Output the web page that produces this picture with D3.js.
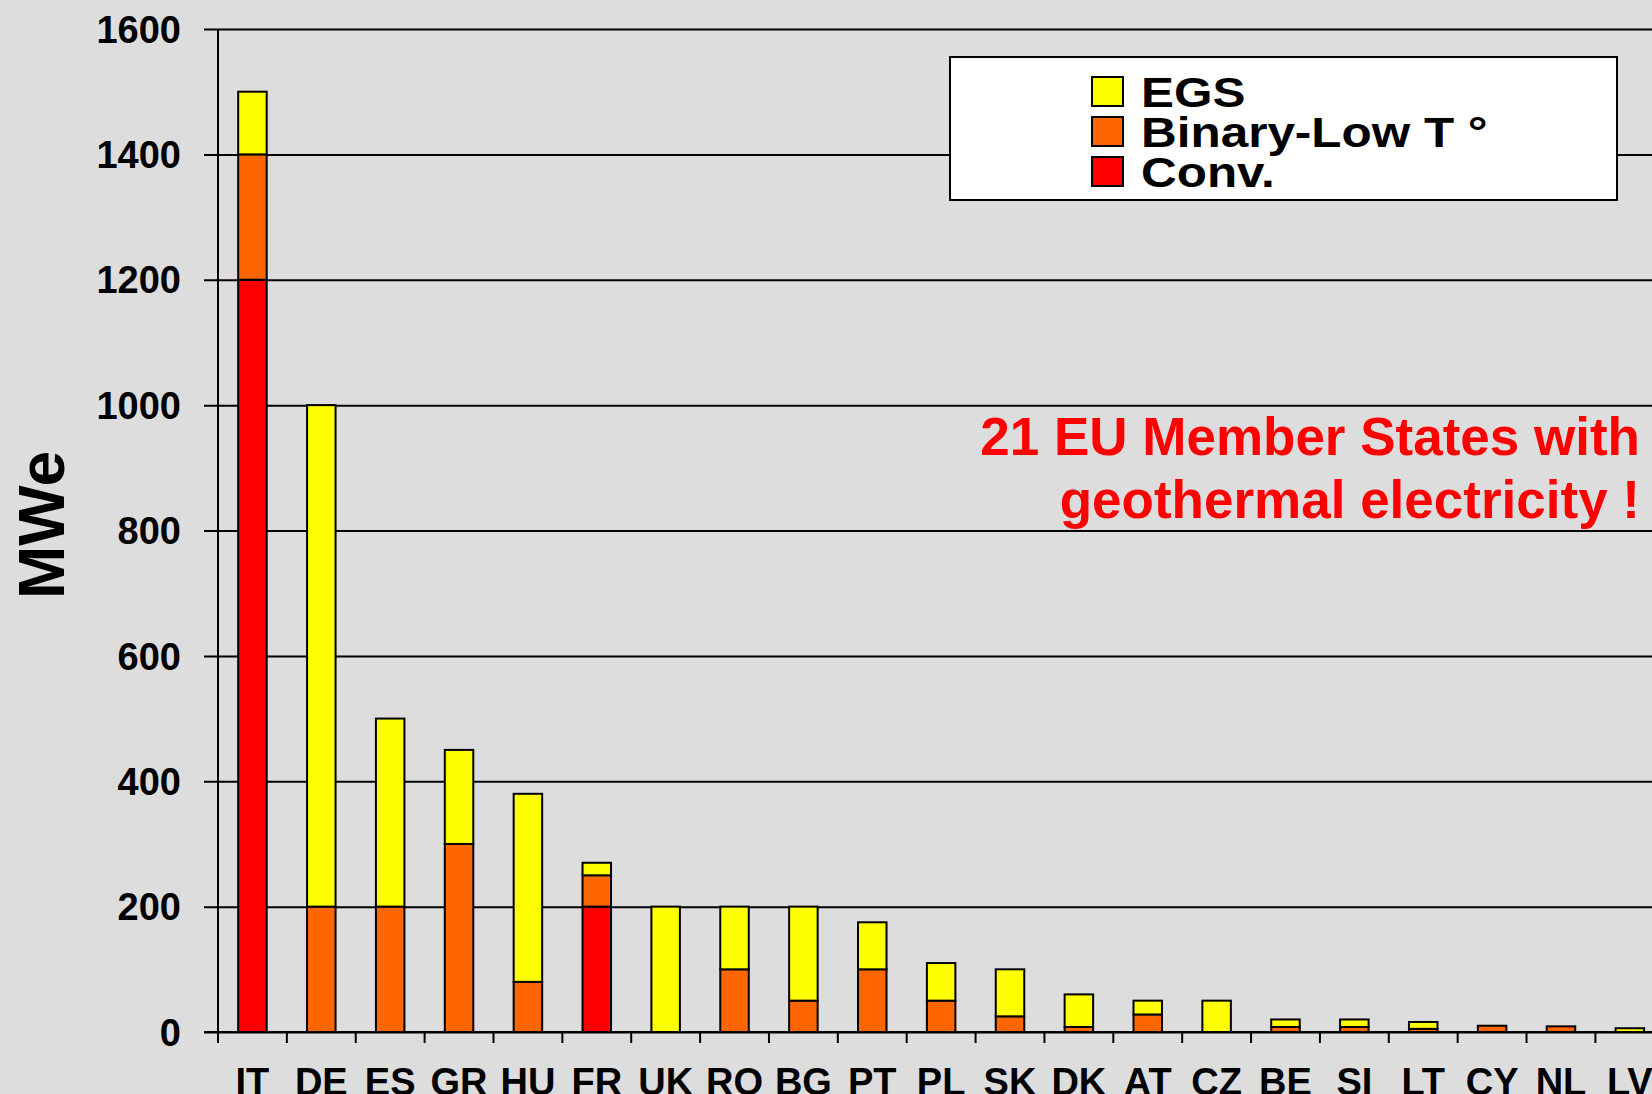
<!DOCTYPE html>
<html>
<head>
<meta charset="utf-8">
<script src="https://cdn.jsdelivr.net/npm/d3@7"></script>
<style>
  html, body { margin: 0; padding: 0; background: #dddddd; overflow: hidden; }
  svg { display: block; }
  text { font-family: "Liberation Sans", Arial, Helvetica, sans-serif; font-weight: bold; }
</style>
</head>
<body>
<div id="svg_container"></div>
<script>
/* -----------------------
data
------------------------- */

var countries = ['IT','DE','ES','GR','HU','FR','UK','RO','BG','PT','PL','SK','DK','AT','CZ','BE','SI','LT','CY','NL','LV'];
var conv   = [1200,   0,   0,   0,   0, 200,   0,   0,   0,   0,  0,  0,  0,  0,  0,  0,  0,  0,  0, 0, 0];
var binary = [ 200, 200, 200, 300,  80,  50,   0, 100,  50, 100, 50, 25,  8, 28,  0,  8,  8,  5, 10, 9, 0];
var egs    = [ 100, 800, 300, 150, 300,  20, 200, 100, 150,  75, 60, 75, 52, 22, 50, 12, 12, 11,  0, 0, 6];

var y_ticks = [0,200,400,600,800,1000,1200,1400,1600];
var series_names = ['EGS','Binary-Low T \u00b0','Conv.'];
var note_lines = ['21 EU Member States with','geothermal electricity !'];
var y_title = 'MWe';

/* -----------------------
main variables
------------------------- */

var width = 1652,
height = 1094;

var x0 = 218,
step = 68.87,
y_top = 29,
y_zero = 1032,
bar_w = 28.5;

var c_egs = '#ffff00',
c_bin = '#ff6600',
c_conv = '#ff0000',
c_bg = '#dddddd';

/* -----------------------
set plot
------------------------- */

var svg = d3.select('#svg_container')
  .append('svg')
  .attr('width', width)
  .attr('height', height);

svg.append('rect')
  .attr('width', width).attr('height', height)
  .attr('fill', c_bg);

var x = d3.scaleBand()
  .domain(countries)
  .range([x0, x0 + step * countries.length])
  .padding(0);

var y = d3.scaleLinear()
  .domain([0, 1600])
  .range([y_zero, y_top]);

// gridlines + y ticks
svg.append('g')
  .attr('transform', 'translate(' + x0 + ',0)')
  .call(d3.axisLeft(y).tickValues(y_ticks).tickSize(-(width - x0)).tickSizeOuter(0).tickFormat(''))
  .call(function (g) {
    g.select('.domain').remove();
    g.selectAll('.tick line')
      .attr('x1', -14)
      .attr('stroke', '#000')
      .attr('stroke-width', 2);
  });

// y tick labels
svg.append('g').selectAll('text')
  .data(y_ticks)
  .enter()
  .append('text')
  .attr('x', 181)
  .attr('y', function (d) { return y(d); })
  .attr('dy', '0.36em')
  .attr('text-anchor', 'end')
  .attr('font-size', 38)
  .text(function (d) { return d; });

/* -----------------------
bars
------------------------- */

var stack_data = countries.map(function (c, i) {
  return { country: c, conv: conv[i], binary: binary[i], egs: egs[i] };
});

var stacked = d3.stack().keys(['conv', 'binary', 'egs'])(stack_data);
var colors = { conv: c_conv, binary: c_bin, egs: c_egs };

svg.append('g').selectAll('g')
  .data(stacked)
  .enter()
  .append('g')
  .attr('fill', function (s) { return colors[s.key]; })
  .selectAll('rect')
  .data(function (s) { return s.filter(function (d) { return d[1] - d[0] > 0; }); })
  .enter()
  .append('rect')
  .attr('x', function (d) { return x(d.data.country) + (x.bandwidth() - bar_w) / 2; })
  .attr('width', bar_w)
  .attr('y', function (d) { return y(d[1]); })
  .attr('height', function (d) { return y(d[0]) - y(d[1]); })
  .attr('stroke', '#000')
  .attr('stroke-width', 2);

/* -----------------------
axes
------------------------- */

// x axis line
svg.append('line')
  .attr('x1', 204).attr('x2', width)
  .attr('y1', y_zero).attr('y2', y_zero)
  .attr('stroke', '#000').attr('stroke-width', 2);

// y axis line
svg.append('line')
  .attr('x1', x0).attr('x2', x0)
  .attr('y1', y_top).attr('y2', y_zero + 11)
  .attr('stroke', '#000').attr('stroke-width', 2);

// x ticks at category boundaries
svg.append('g').selectAll('line')
  .data(countries)
  .enter()
  .append('line')
  .attr('x1', function (d) { return x(d) + x.bandwidth(); })
  .attr('x2', function (d) { return x(d) + x.bandwidth(); })
  .attr('y1', y_zero).attr('y2', y_zero + 11)
  .attr('stroke', '#000').attr('stroke-width', 2);

// x labels (cut at the bottom edge, as in the source)
svg.append('g').selectAll('text')
  .data(countries)
  .enter()
  .append('text')
  .attr('x', function (d) { return x(d) + x.bandwidth() / 2; })
  .attr('y', 1095)
  .attr('text-anchor', 'middle')
  .attr('font-size', 38)
  .text(function (d) { return d; });

// y title
svg.append('text')
  .attr('transform', 'translate(64,525) rotate(-90)')
  .attr('text-anchor', 'middle')
  .attr('font-size', 64)
  .text(y_title);

/* -----------------------
legend
------------------------- */

var legend = svg.append('g');

legend.append('rect')
  .attr('x', 950).attr('y', 57)
  .attr('width', 667).attr('height', 143)
  .attr('fill', '#fff')
  .attr('stroke', '#000').attr('stroke-width', 2);

var legend_colors = [c_egs, c_bin, c_conv];

var item = legend.selectAll('.item')
  .data(series_names)
  .enter()
  .append('g')
  .attr('class', 'item')
  .attr('transform', function (d, i) { return 'translate(0,' + (i * 40) + ')'; });

item.append('rect')
  .attr('x', 1092).attr('y', 77)
  .attr('width', 31).attr('height', 29)
  .attr('fill', function (d, i) { return legend_colors[i]; })
  .attr('stroke', '#000').attr('stroke-width', 2);

item.append('text')
  .attr('transform', 'translate(1141,107) scale(1.15,1)')
  .attr('font-size', 43)
  .text(function (d) { return d; });

/* -----------------------
note
------------------------- */

svg.append('g').selectAll('text')
  .data(note_lines)
  .enter()
  .append('text')
  .attr('x', 1640)
  .attr('y', function (d, i) { return 455 + i * 63; })
  .attr('text-anchor', 'end')
  .attr('font-size', 53)
  .attr('fill', '#ff0000')
  .text(function (d) { return d; });
</script>
</body>
</html>
